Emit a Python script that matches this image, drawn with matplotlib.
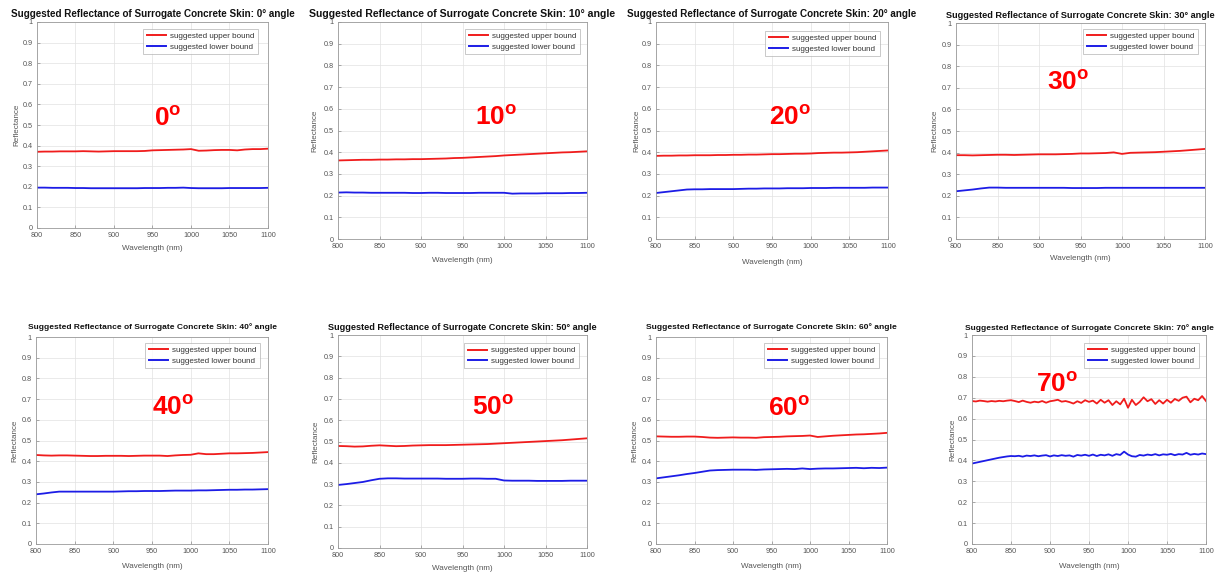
import numpy as np
import matplotlib
matplotlib.use("Agg")
import matplotlib.pyplot as plt

plt.rcParams['font.family'] = ['Liberation Sans', 'DejaVu Sans']
plt.rcParams['mathtext.fontset'] = 'custom'
plt.rcParams['mathtext.rm'] = 'Liberation Sans'
plt.rcParams['mathtext.bf'] = 'Liberation Sans:bold'

# ---------------- data ----------------
angles = [0, 10, 20, 30, 40, 50, 60, 70]
wl = np.arange(800, 1101, 10)
wl70 = np.arange(800, 1101, 5)

up0 = [0.370,0.371,0.371,0.372,0.372,0.372,0.373,0.372,0.371,0.372,0.373,0.373,0.373,0.373,0.374,0.377,0.378,0.379,0.380,0.381,0.383,0.375,0.376,0.378,0.379,0.379,0.377,0.381,0.383,0.383,0.385]
lo0 = [0.196,0.196,0.195,0.195,0.195,0.194,0.194,0.193,0.193,0.193,0.193,0.193,0.193,0.193,0.194,0.194,0.194,0.195,0.195,0.196,0.194,0.193,0.193,0.193,0.193,0.194,0.194,0.194,0.194,0.194,0.195]

up10 = [0.362,0.363,0.364,0.365,0.365,0.366,0.366,0.367,0.367,0.368,0.368,0.369,0.370,0.371,0.373,0.374,0.376,0.378,0.380,0.382,0.385,0.387,0.389,0.391,0.393,0.395,0.397,0.399,0.400,0.402,0.404]
lo10 = [0.214,0.215,0.214,0.214,0.213,0.213,0.213,0.213,0.213,0.212,0.212,0.213,0.213,0.212,0.212,0.212,0.212,0.213,0.213,0.213,0.213,0.209,0.210,0.210,0.210,0.211,0.211,0.211,0.212,0.212,0.213]

up20 = [0.383,0.384,0.384,0.385,0.385,0.386,0.386,0.386,0.387,0.387,0.388,0.388,0.389,0.389,0.390,0.391,0.391,0.392,0.393,0.393,0.394,0.396,0.397,0.398,0.398,0.399,0.400,0.402,0.404,0.406,0.408]
lo20 = [0.212,0.216,0.220,0.224,0.228,0.229,0.229,0.230,0.230,0.230,0.230,0.231,0.232,0.232,0.233,0.233,0.233,0.234,0.234,0.234,0.235,0.235,0.235,0.236,0.236,0.236,0.236,0.236,0.237,0.237,0.237]

up30 = [0.388,0.388,0.387,0.388,0.389,0.390,0.390,0.389,0.390,0.391,0.392,0.392,0.392,0.393,0.394,0.396,0.396,0.397,0.398,0.401,0.394,0.399,0.400,0.401,0.402,0.404,0.406,0.408,0.411,0.414,0.417]
lo30 = [0.221,0.225,0.229,0.234,0.238,0.238,0.237,0.237,0.237,0.237,0.237,0.237,0.237,0.237,0.236,0.236,0.236,0.236,0.237,0.237,0.237,0.237,0.237,0.237,0.237,0.237,0.237,0.237,0.237,0.237,0.237]

up40 = [0.430,0.428,0.427,0.428,0.428,0.427,0.426,0.425,0.425,0.426,0.426,0.426,0.425,0.426,0.427,0.427,0.427,0.425,0.428,0.430,0.431,0.438,0.434,0.434,0.436,0.438,0.438,0.439,0.440,0.442,0.444]
lo40 = [0.240,0.244,0.249,0.253,0.253,0.253,0.253,0.253,0.253,0.253,0.253,0.254,0.255,0.255,0.256,0.256,0.256,0.257,0.258,0.258,0.258,0.259,0.259,0.260,0.261,0.262,0.262,0.263,0.263,0.264,0.265]

up50 = [0.479,0.478,0.476,0.477,0.480,0.482,0.480,0.478,0.479,0.481,0.482,0.483,0.483,0.483,0.484,0.485,0.486,0.487,0.488,0.490,0.492,0.494,0.496,0.498,0.500,0.502,0.504,0.506,0.509,0.512,0.515]
lo50 = [0.296,0.300,0.305,0.310,0.318,0.325,0.327,0.327,0.326,0.326,0.326,0.326,0.326,0.325,0.325,0.325,0.326,0.326,0.325,0.325,0.317,0.316,0.316,0.316,0.315,0.315,0.315,0.315,0.316,0.316,0.316]

up60 = [0.520,0.519,0.518,0.518,0.519,0.519,0.517,0.514,0.513,0.514,0.515,0.514,0.514,0.513,0.516,0.517,0.518,0.520,0.521,0.522,0.524,0.517,0.520,0.523,0.525,0.527,0.529,0.530,0.532,0.534,0.537]
lo60 = [0.317,0.322,0.327,0.332,0.338,0.343,0.349,0.355,0.357,0.358,0.359,0.359,0.359,0.358,0.360,0.361,0.362,0.363,0.362,0.365,0.362,0.364,0.365,0.365,0.366,0.367,0.368,0.366,0.368,0.367,0.369]

up70 = [0.684,0.682,0.686,0.684,0.681,0.684,0.682,0.685,0.683,0.686,
        0.688,0.684,0.679,0.686,0.680,0.676,0.681,0.678,0.684,0.676,
        0.683,0.686,0.690,0.681,0.684,0.679,0.672,0.683,0.675,0.688,
        0.680,0.686,0.672,0.690,0.676,0.688,0.665,0.683,0.668,0.695,
        0.652,0.690,0.665,0.680,0.702,0.683,0.693,0.670,0.688,0.672,
        0.690,0.676,0.694,0.685,0.700,0.705,0.678,0.695,0.688,0.708,
        0.684]
lo70 = [0.385,0.389,0.393,0.397,0.401,0.405,0.409,0.413,0.416,0.419,
        0.421,0.420,0.422,0.418,0.423,0.421,0.424,0.420,0.423,0.425,
        0.419,0.424,0.421,0.425,0.422,0.424,0.418,0.426,0.423,0.427,
        0.422,0.428,0.421,0.427,0.424,0.429,0.422,0.430,0.426,0.442,
        0.428,0.420,0.418,0.426,0.423,0.428,0.425,0.430,0.424,0.429,
        0.427,0.431,0.425,0.430,0.428,0.436,0.427,0.431,0.428,0.433,
        0.430]

xs = [wl, wl, wl, wl, wl, wl, wl, wl70]
uppers = [up0, up10, up20, up30, up40, up50, up60, up70]
lowers = [lo0, lo10, lo20, lo30, lo40, lo50, lo60, lo70]

xticks = [800, 850, 900, 950, 1000, 1050, 1100]
yticks = [0, 0.1, 0.2, 0.3, 0.4, 0.5, 0.6, 0.7, 0.8, 0.9, 1]
ytick_labels = ['0', '0.1', '0.2', '0.3', '0.4', '0.5', '0.6', '0.7', '0.8', '0.9', '1']
title_fmt = 'Suggested Reflectance of Surrogate Concrete Skin: {}° angle'
legend_labels = ['suggested upper bound', 'suggested lower bound']

# ---------------- layout (pixels, top-left origin) ----------------
W, H = 1221, 573
axes_px = [(37, 268, 22, 228), (338, 587, 22, 239), (656, 888, 22, 239), (956, 1205, 23, 239),
           (36, 268, 337, 544), (338, 587, 335, 548), (656, 887, 337, 544), (972, 1206, 335, 544)]
title_y = [14, 14, 14, 15, 327, 328, 327, 328]
title_size = [7.1, 7.6, 7.1, 6.55, 6.0, 6.55, 6.1, 6.0]
ylab_x = [17, 315, 637, 935, 15, 316, 635, 953]
xlab_y = [248, 260, 262, 259, 567, 568, 567, 567]
leg_anchor = [(0.957, 0.966), (0.972, 0.968), (0.966, 0.959), (0.972, 0.972),
              (0.966, 0.971), (0.968, 0.962), (0.965, 0.971), (0.970, 0.962)]
label_pos = [(154, 125.5), (475, 124.5), (769, 124.5), (1047, 89.5),
             (152, 414.5), (472, 414.5), (768, 415.5), (1036, 391.5)]

fig = plt.figure(figsize=(W / 100, H / 100), dpi=100)
fig.patch.set_facecolor('white')

for i, ang in enumerate(angles):
    x0, x1, y0, y1 = axes_px[i]
    ax = fig.add_axes([x0 / W, 1 - y1 / H, (x1 - x0) / W, (y1 - y0) / H])
    ax.plot(xs[i], uppers[i], color='#f01c1c', lw=1.3, label=legend_labels[0])
    ax.plot(xs[i], lowers[i], color='#1c1ce6', lw=1.3, label=legend_labels[1])
    ax.set_xlim(800, 1100)
    ax.set_ylim(0, 1)
    ax.set_xticks(xticks)
    ax.set_yticks(yticks)
    ax.set_yticklabels(ytick_labels)
    ax.grid(True, color='#e2e2e2', lw=0.5)
    ax.set_axisbelow(True)
    ax.tick_params(direction='in', length=2, width=0.5, color='#8a8a8a',
                   labelcolor='#555555', labelsize=5.2, pad=3)
    for s in ax.spines.values():
        s.set_color('#9a9a9a')
        s.set_linewidth(0.6)
    ax.set_xlabel('Wavelength (nm)', fontsize=5.8, color='#555555')
    ax.set_ylabel('Reflectance', fontsize=5.8, color='#555555')
    ax.xaxis.set_label_coords(0.5, -(xlab_y[i] - y1) / (y1 - y0), transform=ax.transAxes)
    ax.yaxis.set_label_coords(-(x0 - ylab_x[i]) / (x1 - x0), 0.5, transform=ax.transAxes)
    ax.xaxis.label.set_va('center')
    ax.yaxis.label.set_va('center')
    leg = ax.legend(loc='upper right', bbox_to_anchor=leg_anchor[i], borderaxespad=0,
                    fontsize=5.8, frameon=True, fancybox=False, handlelength=2.4,
                    handletextpad=0.5, borderpad=0.45, labelspacing=0.35)
    leg.get_frame().set_edgecolor('#b0b0b0')
    leg.get_frame().set_linewidth(0.6)
    for t in leg.get_texts():
        t.set_color('#333333')
    for l in leg.get_lines():
        l.set_linewidth(1.4)
    fig.text((x0 + x1) / 2 / W, 1 - title_y[i] / H, title_fmt.format(ang),
             ha='center', va='center', fontsize=title_size[i], fontweight='bold', color='#111111')
    lx, ly = label_pos[i]
    fig.text(lx / W, 1 - ly / H, r'$\mathbf{%d^{o}}$' % ang, ha='left', va='baseline',
             fontsize=19, color='#ff0000')

fig.savefig('out.png', dpi=100, facecolor='white')
